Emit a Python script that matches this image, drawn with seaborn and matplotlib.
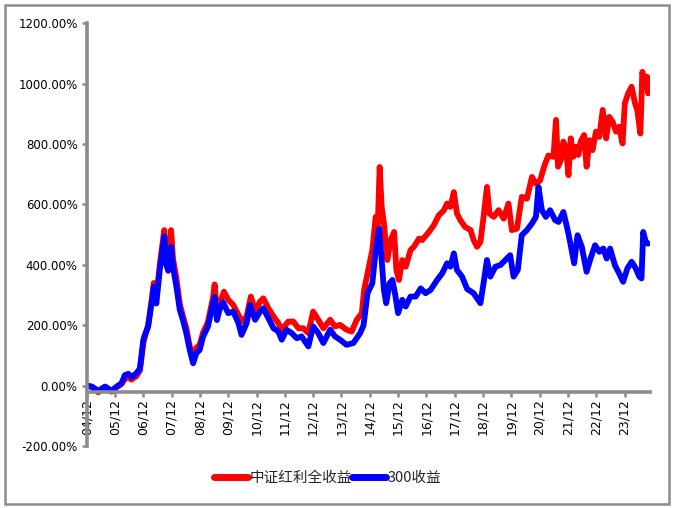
import numpy as np
import pandas as pd
import matplotlib
matplotlib.use("Agg")
import matplotlib.pyplot as plt
import seaborn as sns
from matplotlib.patches import Rectangle

# ---- data (years since Dec-2004, cumulative return %) ----
red_t = [0.00, 0.18, 0.41, 0.65, 0.88, 1.06, 1.23, 1.35, 1.47, 1.58, 1.76, 1.88,
         2.00, 2.05, 2.17, 2.29, 2.37, 2.46, 2.58, 2.74, 2.80, 2.88, 2.98, 3.05,
         3.17, 3.29, 3.40, 3.52, 3.64, 3.76, 3.87, 3.99, 4.11, 4.28, 4.46, 4.52,
         4.60, 4.69, 4.85, 5.00, 5.18, 5.36, 5.47, 5.65, 5.80, 5.95, 6.12, 6.24,
         6.42, 6.60, 6.77, 6.89, 7.12, 7.30, 7.48, 7.65, 7.83, 8.00, 8.18, 8.36,
         8.60, 8.77, 8.95, 9.18, 9.36, 9.54, 9.72, 9.80, 9.92, 10.09, 10.21, 10.27,
         10.35, 10.42, 10.50, 10.62, 10.74, 10.86, 10.94, 11.03, 11.15, 11.27, 11.44, 11.56,
         11.74, 11.85, 12.09, 12.26, 12.44, 12.62, 12.73, 12.85, 12.97, 13.08, 13.20, 13.36,
         13.56, 13.67, 13.79, 13.91, 14.02, 14.14, 14.23, 14.38, 14.55, 14.73, 14.90, 15.02,
         15.20, 15.37, 15.55, 15.73, 15.87, 16.02, 16.17, 16.31, 16.49, 16.58, 16.65, 16.75,
         16.84, 16.94, 17.02, 17.10, 17.19, 17.29, 17.37, 17.45, 17.57, 17.66, 17.76, 17.87,
         17.99, 18.11, 18.23, 18.35, 18.46, 18.58, 18.70, 18.81, 18.93, 19.01, 19.13, 19.25,
         19.37, 19.45, 19.56, 19.63, 19.72, 19.80, 19.83]
red_v = [0, -5, -22, -5, -20, -5, 5, 22, 28, 20, 32, 50,
         140, 160, 200, 280, 340, 290, 400, 515, 420, 380, 515, 420,
         355, 270, 230, 190, 130, 95, 125, 135, 175, 210, 290, 335,
         240, 270, 311, 284, 267, 234, 212, 229, 295, 245, 278, 289,
         256, 229, 207, 185, 212, 212, 190, 190, 174, 245, 218, 190,
         218, 196, 201, 185, 179, 218, 240, 317, 372, 449, 559, 493,
         724, 592, 537, 416, 482, 509, 383, 350, 416, 394, 449, 460,
         487, 482, 509, 531, 564, 581, 603, 592, 641, 570, 548, 526,
         515, 482, 460, 476, 559, 658, 570, 559, 581, 553, 603, 515,
         520, 625, 619, 691, 669, 680, 729, 762, 758, 880, 725, 747,
         808, 780, 697, 819, 758, 791, 764, 808, 830, 725, 813, 780,
         841, 824, 913, 819, 890, 874, 841, 857, 802, 935, 968, 990,
         935, 913, 835, 1039, 990, 1023, 968]

blue_t = [0.00, 0.18, 0.41, 0.65, 0.88, 1.06, 1.23, 1.35, 1.47, 1.58, 1.76, 1.88,
          2.00, 2.05, 2.17, 2.29, 2.37, 2.46, 2.58, 2.74, 2.80, 2.88, 2.98, 3.05,
          3.17, 3.29, 3.40, 3.52, 3.64, 3.76, 3.87, 3.99, 4.11, 4.28, 4.46, 4.52,
          4.60, 4.69, 4.81, 5.00, 5.18, 5.36, 5.47, 5.65, 5.77, 5.95, 6.12, 6.24,
          6.42, 6.60, 6.77, 6.89, 7.06, 7.24, 7.42, 7.59, 7.83, 8.00, 8.18, 8.36,
          8.60, 8.77, 8.95, 9.18, 9.42, 9.66, 9.78, 9.92, 10.09, 10.21, 10.33, 10.42,
          10.50, 10.58, 10.70, 10.80, 10.89, 11.00, 11.15, 11.27, 11.44, 11.62, 11.80, 11.97,
          12.15, 12.38, 12.56, 12.73, 12.85, 12.97, 13.08, 13.26, 13.44, 13.67, 13.79, 13.91,
          14.02, 14.14, 14.26, 14.44, 14.61, 14.79, 14.96, 15.08, 15.23, 15.37, 15.55, 15.73,
          15.87, 15.96, 16.08, 16.22, 16.37, 16.55, 16.67, 16.84, 16.98, 17.10, 17.22, 17.34,
          17.49, 17.66, 17.80, 17.96, 18.11, 18.25, 18.37, 18.49, 18.66, 18.84, 18.95, 19.10,
          19.25, 19.40, 19.52, 19.60, 19.66, 19.75, 19.83]
blue_v = [0, -3, -17, -3, -17, -3, 8, 35, 39, 28, 41, 57,
          151, 167, 195, 272, 327, 272, 382, 495, 404, 382, 460, 393,
          327, 250, 217, 173, 118, 74, 107, 118, 162, 195, 272, 294,
          217, 250, 277, 240, 245, 207, 168, 207, 267, 218, 245, 256,
          223, 190, 179, 152, 185, 174, 157, 163, 130, 196, 174, 141,
          185, 163, 152, 135, 141, 174, 200, 306, 339, 449, 520, 416,
          317, 273, 339, 350, 306, 240, 284, 262, 295, 295, 322, 306,
          317, 350, 372, 405, 394, 438, 383, 361, 320, 306, 289, 273,
          339, 416, 361, 394, 399, 416, 432, 361, 383, 498, 515, 537,
          559, 658, 581, 559, 581, 548, 542, 575, 520, 465, 405, 498,
          460, 377, 421, 465, 443, 454, 421, 454, 399, 366, 344, 388,
          410, 388, 361, 355, 509, 476, 470]

series_names = ["中证红利全收益", "300收益"]
series_colors = ["#FF0000", "#0000FF"]
xtick_labels = ["%02d/12" % y for y in range(4, 24)]
ytick_values = list(range(-200, 1201, 200))

df = pd.concat([
    pd.DataFrame({"t": red_t, "v": red_v, "series": series_names[0]}),
    pd.DataFrame({"t": blue_t, "v": blue_v, "series": series_names[1]}),
], ignore_index=True)

sns.set_style("white")
plt.rcParams["font.family"] = ["DejaVu Sans"]

W, H = 674, 508
fig = plt.figure(figsize=(W / 100, H / 100), dpi=100)
ax = fig.add_axes([86.7 / W, 1 - 446 / H, (650 - 86.7) / W, (446 - 23.3) / H])

sns.lineplot(data=df, x="t", y="v", hue="series", hue_order=series_names,
             palette=series_colors, linewidth=4.2, estimator=None, sort=False,
             legend=False, ax=ax)

ax.set_xlim(0, 19.9)
ax.set_ylim(-200, 1200)
ax.set_xlabel("")
ax.set_ylabel("")

grey = "#8c8c8c"
for s in ["top", "right"]:
    ax.spines[s].set_visible(False)
ax.spines["left"].set_color(grey)
ax.spines["left"].set_linewidth(2.6)
ax.spines["bottom"].set_color(grey)
ax.spines["bottom"].set_linewidth(2.6)
ax.spines["bottom"].set_position(("data", -20))

ax.set_yticks(ytick_values)
ax.set_yticklabels(["%.2f%%" % v for v in ytick_values], fontsize=8.5, color="black")
ax.set_xticks(range(len(xtick_labels)))
ax.set_xticklabels(xtick_labels, rotation=90, fontsize=9, color="black")
ax.tick_params(axis="y", direction="out", length=3.5, width=1.8, color=grey, pad=3, left=True)
ax.tick_params(axis="x", direction="out", length=3.5, width=1.8, color=grey, pad=2, bottom=True)
ax.grid(False)

handles = ax.get_lines()[:2]
leg = fig.legend(handles, series_names, loc="center", bbox_to_anchor=(328 / W, 1 - 478 / H),
                 ncol=2, frameon=False, handlelength=2.3, handletextpad=0.15,
                 columnspacing=0.0, prop={"family": ["Noto Sans CJK SC", "DejaVu Sans"], "size": 10.5})
for l in leg.get_lines():
    l.set_linewidth(5)

fig.patches.append(Rectangle((4.5 / W, 1 - 504 / H), (669 - 4.5) / W, (504 - 4.5) / H,
                             transform=fig.transFigure, fill=False, edgecolor=grey,
                             linewidth=1.8))

fig.savefig("out.png", dpi=100)
